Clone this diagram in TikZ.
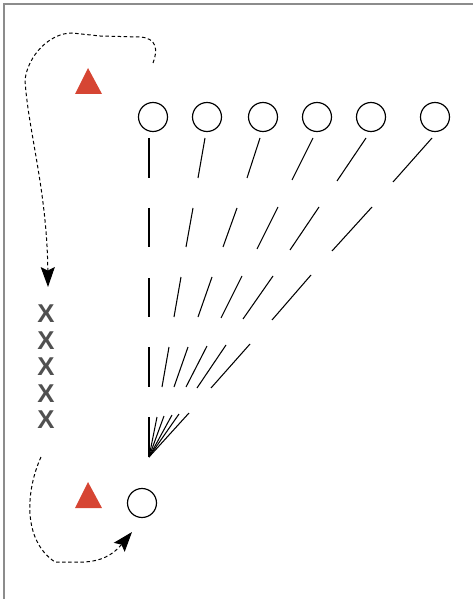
\documentclass[tikz,border=0pt]{standalone}
\usepackage{fontspec}
\setsansfont{Liberation Sans}
\usetikzlibrary{arrows.meta}

\definecolor{cone}{RGB}{214,69,51}
\definecolor{xgray}{RGB}{80,80,80}
\definecolor{frame}{RGB}{140,140,140}

\tikzset{
    ball/.style={draw, circle, line width=1pt, minimum size=0.87cm, inner sep=0pt},
    player/.style={text=xgray, font=\sffamily\bfseries\fontsize{22}{22}\selectfont, inner sep=0pt},
    ray/.style={line width=0.9pt},
    run/.style={line width=0.85pt, dash pattern=on 3pt off 2.2pt, -{Stealth[length=17pt,width=12pt,inset=3pt]}}
}

\begin{document}
\begin{tikzpicture}[x=0.03cm, y=-0.03cm]
        \useasboundingbox (0,0) rectangle (473,599);
        \draw[frame, line width=1.3pt] (4,599) -- (4,4) -- (473,4);
        % cones
        \fill[cone] (88,68) -- (75,94) -- (102,94) -- cycle;
        \fill[cone] (88,482) -- (75,508) -- (102,508) -- cycle;
        % balls
        \node[ball] (b1) at (153,117) {};
        \node[ball] (b2) at (207,117) {};
        \node[ball] (b3) at (263,117) {};
        \node[ball] (b4) at (317,117) {};
        \node[ball] (b5) at (371,117) {};
        \node[ball] (b6) at (435,117) {};
        \node[ball] (goal) at (142,503) {};
        % players
        \node[player] (x1) at (46,314) {X};
        \node[player] (x2) at (46,341) {X};
        \node[player] (x3) at (46,367) {X};
        \node[player] (x4) at (46,394) {X};
        \node[player] (x5) at (46,420) {X};
        % rows of lines
        \draw[ray] (149,138) -- (149,178);
        \draw[ray] (205,138) -- (198,178);
        \draw[ray] (260,138) -- (247,178);
        \draw[ray] (313,138) -- (292,180);
        \draw[ray] (366,138) -- (337,181);
        \draw[ray] (432,138) -- (393,182);
        \draw[ray] (149,208) -- (149,247);
        \draw[ray] (193,208) -- (186,247);
        \draw[ray] (237,208) -- (223,247);
        \draw[ray] (278,207) -- (257,249);
        \draw[ray] (319,207) -- (290,250);
        \draw[ray] (372,207) -- (332,251);
        \draw[ray] (149,278) -- (149,317);
        \draw[ray] (181,277) -- (174,317);
        \draw[ray] (212,277) -- (198,317);
        \draw[ray] (242,276) -- (221,318);
        \draw[ray] (273,276) -- (243,319);
        \draw[ray] (311,275) -- (272,320);
        \draw[ray] (149,347) -- (149,387);
        \draw[ray] (169,347) -- (162,387);
        \draw[ray] (188,347) -- (174,387);
        \draw[ray] (207,346) -- (186,387);
        \draw[ray] (226,345) -- (197,388);
        \draw[ray] (250,344) -- (211,388);
        \coordinate (fan) at (149,457);
        \draw[ray] (149,417) -- (fan);
        \draw[ray] (157,417) -- (fan);
        \draw[ray] (164,416) -- (fan);
        \draw[ray] (172,415) -- (fan);
        \draw[ray] (179,414) -- (fan);
        \draw[ray] (189,413) -- (fan);
        % runs
        \coordinate (s1) at (153,63);
        \coordinate (e1) at (48,287);
        \draw[run] (s1) .. controls (158,50) and (157,38) .. (140,37)
            -- (100,36) -- (72,33) .. controls (50,33) and (28,55) .. (25,80)
            .. controls (28,130) and (47,190) .. (e1);
        \coordinate (s2) at (41,457);
        \coordinate (e2) at (132,532);
        \draw[run] (s2) .. controls (26,490) and (22,540) .. (55,562)
            -- (85,562) .. controls (100,561) and (112,556) .. (e2);
\end{tikzpicture}
\end{document}
